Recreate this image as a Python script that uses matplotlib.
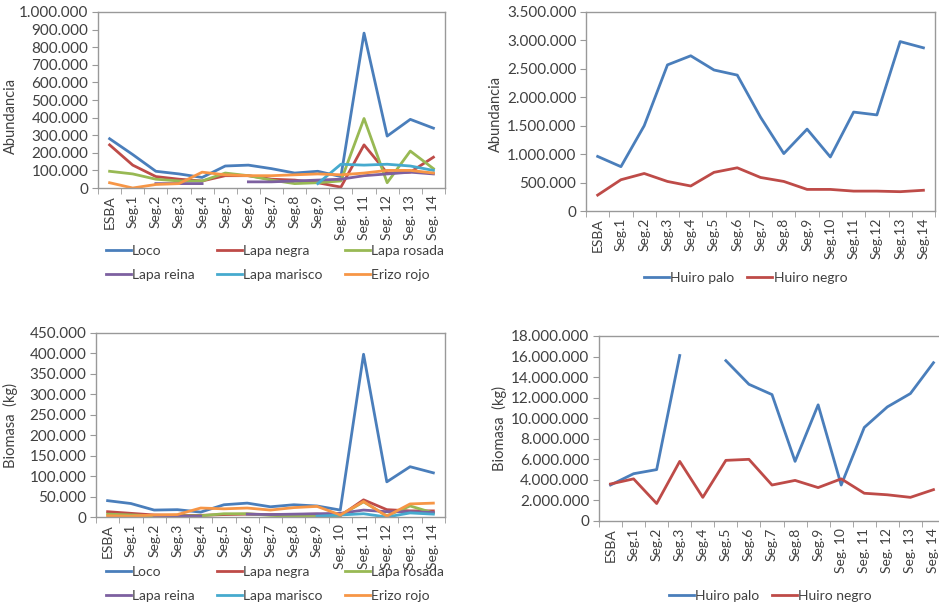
import matplotlib
matplotlib.use("Agg")
import matplotlib.pyplot as plt
import numpy as np
from matplotlib.ticker import FuncFormatter, FixedLocator

plt.rcParams["font.family"] = ["Lato", "DejaVu Sans"]

nan = np.nan

cats_left = ["ESBA", "Seg.1", "Seg.2", "Seg.3", "Seg.4", "Seg.5", "Seg.6", "Seg.7",
             "Seg.8", "Seg.9", "Seg. 10", "Seg. 11", "Seg. 12", "Seg. 13", "Seg. 14"]
cats_right = ["ESBA", "Seg.1", "Seg.2", "Seg.3", "Seg.4", "Seg.5", "Seg.6", "Seg.7",
              "Seg.8", "Seg.9", "Seg.10", "Seg.11", "Seg.12", "Seg.13", "Seg.14"]

# abundancia - invertebrados
ab_loco = [280e3, 190e3, 95e3, 80e3, 60e3, 125e3, 130e3, 110e3, 85e3, 95e3, 65e3, 880e3, 295e3, 390e3, 340e3]
ab_lapa_negra = [245e3, 130e3, 65e3, 50e3, 40e3, 70e3, 70e3, 50e3, 45e3, 30e3, 5e3, 245e3, 85e3, 90e3, 175e3]
ab_lapa_rosada = [95e3, 80e3, 50e3, 40e3, 40e3, 85e3, 70e3, 45e3, 25e3, 30e3, 40e3, 395e3, 30e3, 210e3, 110e3]
ab_lapa_reina = [nan, nan, 25e3, 25e3, 25e3, nan, 35e3, 35e3, 40e3, 45e3, 50e3, 70e3, 80e3, 90e3, 80e3]
ab_lapa_marisco = [nan, nan, nan, nan, nan, nan, nan, nan, nan, 25e3, 135e3, 130e3, 135e3, 125e3, 100e3]
ab_erizo_rojo = [30e3, 0, 20e3, 25e3, 90e3, 75e3, 70e3, 70e3, 75e3, 80e3, 75e3, 85e3, 100e3, 100e3, 85e3]

# biomasa - invertebrados
bio_loco = [40e3, 33e3, 17e3, 18e3, 12e3, 30e3, 34e3, 25e3, 30e3, 27e3, 17e3, 398e3, 86e3, 123e3, 108e3]
bio_lapa_negra = [13e3, 9e3, 5e3, 4e3, 4e3, 6e3, 7e3, 6e3, 6e3, 7e3, 3e3, 42e3, 18e3, 15e3, 15e3]
bio_lapa_rosada = [7e3, 5e3, 3e3, 3e3, 3e3, 8e3, 8e3, 4e3, 2e3, 2e3, 4e3, 37e3, 3e3, 27e3, 10e3]
bio_lapa_reina = [nan, nan, 2e3, 2e3, 2e3, nan, 7e3, 6e3, 7e3, 8e3, 9e3, 17e3, 13e3, 13e3, 11e3]
bio_lapa_marisco = [nan, nan, nan, nan, nan, nan, nan, nan, nan, 2e3, 5e3, 8e3, 0, 10e3, 7e3]
bio_erizo_rojo = [3e3, 2e3, 5e3, 6e3, 22e3, 20e3, 22e3, 17e3, 23e3, 26e3, 5e3, 38e3, 2e3, 32e3, 34e3]

# algas
ab_huiro_palo = [960e3, 780e3, 1.5e6, 2.57e6, 2.73e6, 2.48e6, 2.39e6, 1.65e6, 1.01e6, 1.44e6, 950e3, 1.74e6, 1.69e6, 2.98e6, 2.87e6]
ab_huiro_negro = [280e3, 550e3, 660e3, 520e3, 440e3, 680e3, 760e3, 590e3, 520e3, 380e3, 380e3, 350e3, 350e3, 340e3, 365e3]
bio_huiro_palo = [3.5e6, 4.6e6, 5.0e6, 16.1e6, nan, 15.6e6, 13.3e6, 12.3e6, 5.8e6, 11.3e6, 3.5e6, 9.1e6, 11.1e6, 12.4e6, 15.4e6]
bio_huiro_negro = [3.6e6, 4.1e6, 1.7e6, 5.8e6, 2.3e6, 5.9e6, 6.0e6, 3.5e6, 3.95e6, 3.25e6, 4.1e6, 2.7e6, 2.55e6, 2.3e6, 3.05e6]

inv_names = ["Loco", "Lapa negra", "Lapa rosada", "Lapa reina", "Lapa marisco", "Erizo rojo"]
inv_colors = ["#4A7EBB", "#BE4B48", "#98B954", "#7D60A0", "#46AACE", "#F79646"]
alg_names = ["Huiro palo", "Huiro negro"]
alg_colors = ["#4A7EBB", "#BE4B48"]

text_col = "#404040"
frame_col = "#999999"


def dots(v, pos):
    return f"{int(round(v)):,}".replace(",", ".")


def style_axes(ax, cats, ymax, ystep, ylabel, ylab_xy):
    x = np.arange(len(cats))
    ax.set_xlim(-0.5, len(cats) - 0.5)
    ax.set_ylim(0, ymax)
    ax.set_yticks(np.arange(0, ymax + ystep / 2, ystep))
    ax.yaxis.set_major_formatter(FuncFormatter(dots))
    ax.set_xticks(x)
    ax.set_xticklabels(cats, rotation=90)
    ax.xaxis.set_minor_locator(FixedLocator(np.arange(-0.5, len(cats), 1.0)))
    ax.tick_params(axis="x", which="major", length=0, pad=5, labelsize=10, labelcolor=text_col)
    ax.tick_params(axis="x", which="minor", length=4, color=frame_col, direction="out")
    ax.tick_params(axis="y", length=4, color=frame_col, direction="out", labelsize=11,
                   labelcolor=text_col, pad=3)
    for s in ax.spines.values():
        s.set_color(frame_col)
        s.set_linewidth(1.0)
    ax.set_ylabel(ylabel, fontsize=10.5, color=text_col)
    ax.yaxis.set_label_coords(*ylab_xy)


fig = plt.figure(figsize=(9.39, 6.12), dpi=100)

ax_tl = fig.add_axes([0.1044, 0.6928, 0.3695, 0.2876])
ax_tr = fig.add_axes([0.6241, 0.6552, 0.3717, 0.3252])
ax_bl = fig.add_axes([0.1022, 0.1552, 0.3717, 0.3007])
ax_br = fig.add_axes([0.6379, 0.1487, 0.3685, 0.3023])

x = np.arange(len(cats_left))

ab_inv = [ab_loco, ab_lapa_negra, ab_lapa_rosada, ab_lapa_reina, ab_lapa_marisco, ab_erizo_rojo]
bio_inv = [bio_loco, bio_lapa_negra, bio_lapa_rosada, bio_lapa_reina, bio_lapa_marisco, bio_erizo_rojo]

order = [0, 3, 1, 4, 2, 5]

for ax, series, ymax, ystep, ylab, ylxy, leg_y in [
    (ax_tl, ab_inv, 1_000_000, 100_000, "Abundancia", (-0.23, 0.41), 0.616),
    (ax_bl, bio_inv, 450_000, 50_000, "Biomasa  (kg)", (-0.223, 0.5), 0.091),
]:
    lines = []
    for vals, name, col in zip(series, inv_names, inv_colors):
        ln, = ax.plot(x, vals, color=col, lw=2.0, label=name)
        lines.append(ln)
    style_axes(ax, cats_left, ymax, ystep, ylab, ylxy)
    fig.legend([lines[i] for i in order], [inv_names[i] for i in order],
               loc="upper left", bbox_to_anchor=(0.102, leg_y), ncol=3, frameon=False,
               fontsize=10, handlelength=1.8, handletextpad=0.1, columnspacing=1.6,
               labelspacing=0.85, labelcolor=text_col, borderpad=0.2)

for ax, series, cats, ymax, ystep, ylab, ylxy, leg_x, leg_y in [
    (ax_tr, [ab_huiro_palo, ab_huiro_negro], cats_right, 3_500_000, 500_000, "Abundancia",
     (-0.238, 0.49), 0.6755, 0.571),
    (ax_br, [bio_huiro_palo, bio_huiro_negro], cats_left, 18_000_000, 2_000_000, "Biomasa  (kg)",
     (-0.266, 0.5), 0.702, 0.0525),
]:
    lines = []
    for vals, name, col in zip(series, alg_names, alg_colors):
        ln, = ax.plot(x, vals, color=col, lw=2.0, label=name)
        lines.append(ln)
    style_axes(ax, cats, ymax, ystep, ylab, ylxy)
    fig.legend(lines, alg_names, loc="upper left", bbox_to_anchor=(leg_x, leg_y), ncol=2,
               frameon=False, fontsize=10, handlelength=1.8, handletextpad=0.1,
               columnspacing=0.9, labelcolor=text_col, borderpad=0.2)

fig.savefig("out.png", dpi=100)
